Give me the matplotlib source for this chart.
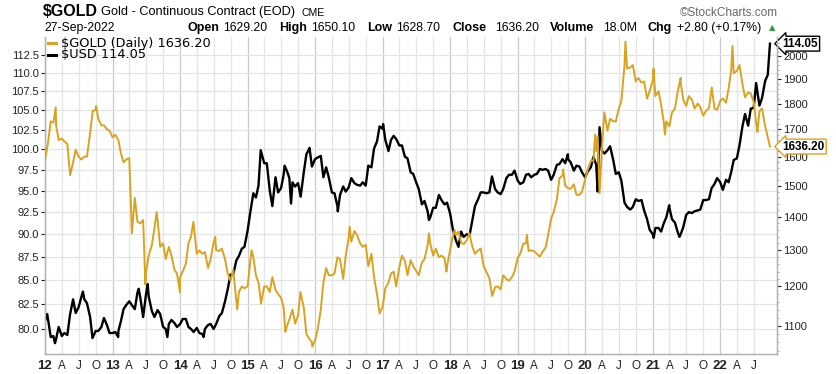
import matplotlib
matplotlib.use('Agg')
import matplotlib.pyplot as plt
import matplotlib.ticker as mticker
from matplotlib.lines import Line2D
import pandas as pd
import numpy as np

# ---------------- data ----------------
month_starts = pd.date_range('2012-01-01', '2022-09-01', freq='MS')
mid_months = month_starts + pd.Timedelta(days=14)

# first trading day of each month
gold_monthly = [
    1590, 1730, 1715, 1665, 1645, 1580, 1600, 1600, 1685, 1775, 1715, 1700,   # 2012
    1670, 1660, 1580, 1595, 1460, 1380, 1240, 1315, 1390, 1320, 1310, 1245,   # 2013
    1225, 1262, 1340, 1290, 1290, 1250, 1322, 1298, 1275, 1215, 1165, 1200,   # 2014
    1200, 1280, 1210, 1200, 1185, 1190, 1170, 1098, 1140, 1125, 1145, 1068,   # 2015
    1065, 1140, 1250, 1230, 1280, 1220, 1338, 1357, 1320, 1316, 1290, 1180,   # 2016
    1148, 1210, 1240, 1252, 1270, 1272, 1242, 1265, 1315, 1285, 1280, 1278,   # 2017
    1302, 1345, 1322, 1330, 1310, 1300, 1255, 1222, 1198, 1192, 1220, 1225,   # 2018
    1278, 1320, 1298, 1297, 1282, 1308, 1395, 1455, 1535, 1492, 1505, 1470,   # 2019
    1522, 1585, 1620, 1630, 1695, 1730, 1780, 1960, 1950, 1890, 1885, 1820,   # 2020
    1895, 1850, 1730, 1712, 1780, 1885, 1790, 1815, 1800, 1752, 1782, 1780,   # 2021
    1810, 1803, 1935, 1935, 1880, 1845, 1807, 1770, 1712,                     # 2022
]
# mid-month (15th) values; None where a spike point below covers that month
gold_mid = [
    1640, 1725, 1660, 1655, 1545, 1625, 1590, 1600, 1770, 1740, 1715, 1695,   # 2012
    1680, 1610, 1590, None, 1385, 1390, 1285, 1365, 1310, 1275, 1285, 1235,   # 2013
    1240, 1320, None, 1300, 1295, 1275, 1300, 1305, 1235, 1245, 1185, 1195,   # 2014
    1265, 1230, 1155, 1200, 1225, 1180, 1145, 1115, 1105, None, 1080, 1060,   # 2015
    1090, 1210, 1230, 1235, 1275, 1285, 1325, 1345, 1310, 1255, 1225, None,   # 2016
    1195, 1235, 1200, 1285, 1230, 1255, 1230, 1275, 1320, 1305, 1285, 1255,   # 2017
    1340, 1355, 1318, 1350, 1290, 1305, 1240, None, 1200, 1230, 1215, 1240,   # 2018
    1290, 1320, 1300, 1290, 1295, 1345, 1415, 1525, 1500, 1490, 1470, 1480,   # 2019
    1555, 1585, None, None, 1740, 1730, 1810, 1945, 1960, 1905, 1890, 1850,   # 2020
    1830, 1795, 1730, 1765, 1845, 1815, 1830, 1780, 1785, 1770, None, 1775,   # 2021
    1820, 1860, 1925, 1960, 1825, 1840, 1720, None, 1670,                     # 2022
]
usd_monthly = [
    80.8, 79.2, 79.0, 79.3, 79.4, 83.0, 82.2, 83.0, 81.2, 79.8, 80.2, 80.4,   # 2012
    79.6, 79.8, 82.0, 82.8, 82.0, 83.0, 83.6, 81.8, 81.9, 80.2, 80.5, 80.6,   # 2013
    80.5, 81.0, 80.0, 80.1, 79.5, 80.4, 80.0, 81.3, 82.8, 85.6, 87.1, 88.4,   # 2014
    90.4, 94.7, 95.6, 98.3, 95.0, 96.6, 95.3, 97.4, 96.0, 95.9, 97.2, 100.1,  # 2015
    98.8, 99.2, 97.8, 94.8, 93.2, 95.5, 95.4, 95.9, 95.6, 95.6, 97.8, 101.0,  # 2016
    102.6, 99.8, 101.7, 100.5, 99.1, 97.2, 96.0, 93.4, 92.6, 93.0, 94.5, 93.4, # 2017
    92.3, 89.3, 90.3, 90.0, 91.6, 94.0, 94.8, 94.8, 95.2, 94.6, 96.5, 96.9,   # 2018
    96.2, 96.0, 97.0, 96.9, 97.6, 97.6, 96.3, 98.1, 98.8, 98.8, 97.4, 97.9,   # 2019
    96.6, 97.8, 98.1, 99.8, 99.9, 98.7, 97.2, 93.6, 92.8, 94.0, 93.9, 91.7,   # 2020
    90.0, 90.7, 91.2, 93.0, 91.3, 90.0, 92.2, 92.4, 92.7, 93.9, 94.0, 95.8,   # 2021
    96.0, 96.3, 97.2, 98.9, 102.9, 103.0, 105.3, 105.6, 108.9,                # 2022
]
usd_mid = [
    None, 79.3, 80.2, 79.6, 81.4, 81.6, 83.2, 82.6, None, 79.8, 81.1, 79.6,   # 2012
    79.7, 80.8, 82.4, 82.4, 83.7, 81.2, 83.3, 81.2, 81.5, 80.0, 80.9, 80.2,   # 2013
    81.0, 80.2, 79.7, 79.6, 80.0, 80.5, 80.5, 81.6, 84.0, 85.6, 87.6, 88.6,   # 2014
    92.4, 94.2, None, 98.3, None, 94.8, 96.9, 96.5, 95.5, 94.3, 99.4, 97.9,   # 2015
    99.0, 96.6, 96.6, 94.7, 94.5, 94.9, 96.5, 95.7, 96.0, 98.0, 100.1, 102.9, # 2016
    101.2, 101.2, 101.3, 100.5, 98.9, 97.0, 95.2, 93.8, 91.9, 93.0, 93.9, 93.6, # 2017
    90.6, None, 89.7, 89.8, 93.2, 94.8, 94.7, 96.7, 94.8, 95.2, 96.9, 97.4,   # 2018
    95.8, 96.9, 96.6, 97.0, 97.5, 97.4, 96.9, 98.2, 98.3, 98.4, 98.0, 97.2,   # 2019
    97.3, 99.1, None, 99.5, 100.4, 97.0, 96.2, 93.1, 93.1, 93.8, 92.7, 90.5,  # 2020
    90.7, 90.3, 91.9, 91.7, 90.3, 90.8, 92.5, 92.6, 92.8, 93.9, 95.3, 96.5,   # 2021
    95.1, 96.0, 98.7, 100.5, 104.5, 105.2, None, 106.6, 109.7,                # 2022
]

gold_extra_dates = ['2012-02-28', '2012-05-16', '2012-10-04', '2013-04-15', '2013-06-27',
                    '2013-08-27', '2013-12-31', '2014-03-14', '2014-07-10', '2014-11-06',
                    '2015-01-22', '2015-07-24', '2015-10-14', '2015-12-17', '2016-07-06',
                    '2016-12-15', '2017-09-08', '2017-12-12', '2018-01-25', '2018-08-16',
                    '2019-02-20', '2019-09-04', '2020-02-24', '2020-03-09', '2020-03-19',
                    '2020-04-14', '2020-08-06', '2021-01-05', '2021-03-08', '2021-06-01',
                    '2021-11-16', '2022-03-08', '2022-07-21', '2022-08-15']
gold_extra_vals = [1785, 1535, 1790, 1350, 1205,
                   1415, 1185, 1385, 1340, 1140,
                   1300, 1085, 1185, 1050, 1370,
                   1130, 1350, 1240, 1360, 1175,
                   1345, 1555, 1680, 1675, 1475,
                   1765, 2065, 1945, 1680, 1905,
                   1865, 2045, 1690, 1780]

usd_extra_dates = ['2012-01-13', '2012-02-24', '2012-07-24', '2012-09-14', '2013-01-31',
                   '2013-05-22', '2013-07-09', '2013-10-24', '2014-05-08', '2015-03-13',
                   '2015-05-15', '2015-07-20', '2015-08-24', '2015-12-02', '2016-05-03',
                   '2017-01-03', '2017-09-08', '2018-02-15', '2019-09-30', '2020-03-09',
                   '2020-03-19', '2021-01-06', '2021-03-31', '2021-05-25', '2022-07-14']
usd_extra_vals = [81.5, 78.6, 83.8, 79.1, 79.2,
                  84.1, 84.6, 79.2, 79.2, 99.9,
                  93.2, 98.0, 93.5, 100.2, 92.6,
                  103.2, 91.6, 88.6, 99.4, 94.9,
                  102.8, 89.6, 93.3, 89.7, 108.6]

last_date = '2022-09-27'
gold_last = 1636.20
usd_last = 114.05

usd_ticks = [80.0, 82.5, 85.0, 87.5, 90.0, 92.5, 95.0, 97.5, 100.0,
             102.5, 105.0, 107.5, 110.0, 112.5]
gold_ticks = [1100, 1200, 1300, 1400, 1500, 1600, 1700, 1800, 1900, 2000]

# ---------------- build series ----------------
def build(monthly, mid, xd, xv, last):
    s = pd.concat([pd.Series(monthly, index=month_starts, dtype=float),
                   pd.Series([np.nan if v is None else v for v in mid],
                             index=mid_months, dtype=float),
                   pd.Series(xv, index=pd.to_datetime(xd), dtype=float),
                   pd.Series([last], index=[pd.Timestamp(last_date)], dtype=float)])
    return s.dropna().sort_index()

gold = build(gold_monthly, gold_mid, gold_extra_dates, gold_extra_vals, gold_last)
usd = build(usd_monthly, usd_mid, usd_extra_dates, usd_extra_vals, usd_last)

GOLDC = '#D9A322'
W, H = 837, 374
SANS = ['Liberation Sans', 'DejaVu Sans']

fig = plt.figure(figsize=(W / 100, H / 100), dpi=100)
L, R, T, B = 45, 777, 37, 354
ax = fig.add_axes([L / W, 1 - B / H, (R - L) / W, (B - T) / H])
ax.set_yscale('log')
ax.set_ylim(77.55, 115.0)
ax.set_xlim(pd.Timestamp('2012-01-01'), pd.Timestamp('2022-11-04'))

ax2 = ax.twinx()
ax2.set_yscale('log')
ax2.set_ylim(1033, 2086)

# grid
ax.yaxis.set_major_locator(mticker.FixedLocator(usd_ticks))
ax.yaxis.set_minor_locator(mticker.NullLocator())
ax.yaxis.set_major_formatter(mticker.FixedFormatter(['%.1f' % v for v in usd_ticks]))
ax.grid(axis='y', color='#E4E4E4', lw=0.9)
ax.set_axisbelow(True)

quarters = pd.date_range('2012-01-01', '2022-07-01', freq='QS')
for q in quarters:
    ax.axvline(q, color='#CBCBCB' if q.month == 1 else '#E6E6E6', lw=0.9, zorder=0)

labels = []
for q in quarters:
    if q.month == 1:
        labels.append('%02d' % (q.year % 100))
    else:
        labels.append({4: 'A', 7: 'J', 10: 'O'}[q.month])
ax.set_xticks(quarters)
ax.set_xticklabels(labels)
for lab, q in zip(ax.get_xticklabels(), quarters):
    lab.set_fontfamily(SANS)
    if q.month == 1:
        lab.set_fontweight('bold')
        lab.set_fontsize(9.5)
    else:
        lab.set_fontsize(8.5)
ax.tick_params(axis='x', length=0, pad=4, colors='#222222')
ax.tick_params(axis='y', length=3, width=0.8, pad=1.5, labelsize=8, colors='#222222',
               direction='out')
for lab in ax.get_yticklabels():
    lab.set_fontfamily(SANS)

ax2.yaxis.set_major_locator(mticker.FixedLocator(gold_ticks))
ax2.yaxis.set_major_formatter(mticker.FixedFormatter([str(v) for v in gold_ticks]))
ax2.yaxis.set_minor_locator(mticker.FixedLocator(np.arange(1040, 2081, 20)))
ax2.yaxis.set_minor_formatter(mticker.NullFormatter())
ax2.tick_params(axis='y', which='major', length=3, width=0.8, pad=1.5, labelsize=8,
                colors='#222222')
ax2.tick_params(axis='y', which='minor', length=1.5, width=0.6, colors='#999999')
for lab in ax2.get_yticklabels():
    lab.set_fontfamily(SANS)

for a in (ax, ax2):
    for side in ('left', 'right', 'bottom'):
        a.spines[side].set_color('#B0B0B0')
        a.spines[side].set_linewidth(0.9)
    a.spines['top'].set_visible(False)

# lines
ax.plot(usd.index, usd.values, color='black', lw=1.7, solid_joinstyle='round', zorder=3)
ax2.plot(gold.index, gold.values, color=GOLDC, lw=1.4, solid_joinstyle='round', zorder=3)

# last value tags
ax.annotate('%.2f' % usd_last, xy=(1.0, usd_last), xycoords=('axes fraction', 'data'),
            xytext=(4, 0), textcoords='offset points', ha='left', va='center',
            fontsize=8.5, fontweight='bold', family=SANS, annotation_clip=False,
            bbox=dict(boxstyle='larrow,pad=0.12', fc='white', ec='black', lw=1.0), zorder=10)
ax2.annotate('%.2f' % gold_last, xy=(1.0, gold_last), xycoords=('axes fraction', 'data'),
             xytext=(4, 0), textcoords='offset points', ha='left', va='center',
             fontsize=8.5, fontweight='bold', family=SANS, annotation_clip=False,
             bbox=dict(boxstyle='larrow,pad=0.12', fc='white', ec=GOLDC, lw=1.0), zorder=10)

# legend (manual)
def fx(px):
    return px / W

def fy(py):
    return 1 - py / H

fig.add_artist(Line2D([fx(48), fx(56)], [fy(43), fy(43)], color=GOLDC, lw=2.2))
fig.add_artist(Line2D([fx(48), fx(56)], [fy(55), fy(55)], color='black', lw=2.2))
fig.text(fx(61), fy(43), '$GOLD (Daily) %.2f' % gold_last, fontsize=9.3,
         family='DejaVu Sans', va='center', ha='left')
fig.text(fx(61), fy(55), '$USD %.2f' % usd_last, fontsize=9.3,
         family='DejaVu Sans', va='center', ha='left')

# header
fig.text(fx(43), fy(12), '$GOLD', fontsize=11.5, fontweight='bold', family=SANS,
         va='center', ha='left')
fig.text(fx(101), fy(12.5), 'Gold - Continuous Contract (EOD)', fontsize=9.2, family=SANS,
         va='center', ha='left')
fig.text(fx(302), fy(13), 'CME', fontsize=7.5, family=SANS, va='center', ha='left')
fig.text(fx(778), fy(12.5), '\u00a9StockCharts.com', fontsize=8.5, family=SANS,
         color='#666666', va='center', ha='right')

line2 = [
    (44, '27-Sep-2022', 'normal'),
    (188, 'Open', 'bold'), (223, '1629.20', 'normal'),
    (279, 'High', 'bold'), (311, '1650.10', 'normal'),
    (367, 'Low', 'bold'), (396, '1628.70', 'normal'),
    (453, 'Close', 'bold'), (495, '1636.20', 'normal'),
    (550, 'Volume', 'bold'), (603, '18.0M', 'normal'),
    (648, 'Chg', 'bold'), (677, '+2.80 (+0.17%)', 'normal'),
]
for xp, txt, wt in line2:
    fig.text(fx(xp), fy(28), txt, fontsize=9 if wt == 'bold' else 8.8, fontweight=wt,
             family=SANS, va='center', ha='left')
fig.text(fx(769), fy(28), '\u25b2', fontsize=6, color='#2E9B3A', family='DejaVu Sans',
         va='center', ha='left')

fig.savefig('out.png', dpi=100)
